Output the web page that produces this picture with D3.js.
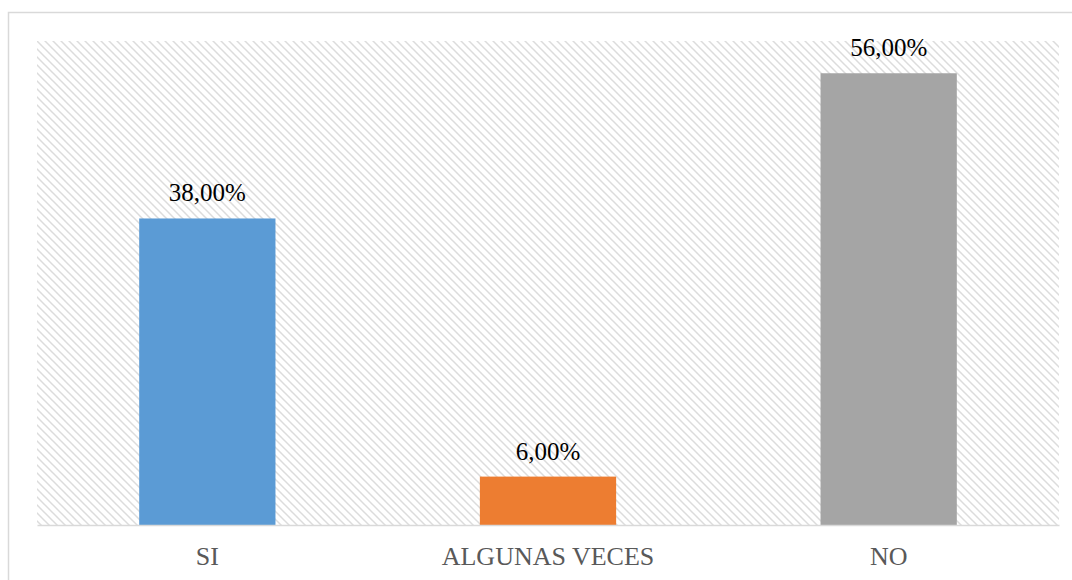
<!DOCTYPE html>
<html>
<head>
<meta charset="utf-8">
<script src="https://cdn.jsdelivr.net/npm/d3@7"></script>
<style>
  body { margin: 0; background: #fff; }
  svg { display: block; }
</style>
</head>
<body>
<svg class="chart"></svg>
<script>
var categories = ["SI", "ALGUNAS VECES", "NO"];
var values = [38, 6, 56];
var colors = ["#5b9bd5", "#ed7d31", "#a5a5a5"];

var W = 1072, H = 580;
var margin = { top: 41, right: 13, bottom: 55, left: 37 },
    width = W - margin.left - margin.right,
    height = H - margin.top - margin.bottom;

var svg = d3.select(".chart").attr("width", W).attr("height", H);

// hatched plot background
var defs = svg.append("defs");
var pat = defs.append("pattern")
    .attr("id", "hatch")
    .attr("patternUnits", "userSpaceOnUse")
    .attr("width", 8).attr("height", 8);
pat.append("path")
    .attr("d", "M-2,-2 L10,10 M-2,6 L2,10 M6,-2 L10,2")
    .attr("stroke", "#dcdcdc")
    .attr("stroke-width", 1.5);

// outer chart border
svg.append("rect")
    .attr("x", 8.5).attr("y", 12.5)
    .attr("width", W).attr("height", H)
    .attr("fill", "none")
    .attr("stroke", "#d9d9d9")
    .attr("stroke-width", 1.5);

var chart = svg.append("g")
    .attr("transform", "translate(" + margin.left + "," + margin.top + ")");

var x = d3.scaleBand().domain(categories).range([0, width])
    .paddingInner(0.6).paddingOuter(0.3);
var y = d3.scaleLinear().domain([0, 60]).range([height, 0]);

chart.append("rect")
    .attr("width", width).attr("height", height)
    .attr("fill", "url(#hatch)");

chart.selectAll(".bar")
    .data(values)
    .enter().append("rect")
    .attr("class", "bar")
    .attr("x", function (d, i) { return x(categories[i]); })
    .attr("y", function (d) { return y(d); })
    .attr("width", x.bandwidth())
    .attr("height", function (d) { return height - y(d); })
    .attr("fill", function (d, i) { return colors[i]; });

// value labels
chart.selectAll(".val")
    .data(values)
    .enter().append("text")
    .attr("class", "val")
    .attr("x", function (d, i) { return x(categories[i]) + x.bandwidth() / 2; })
    .attr("y", function (d) { return y(d) - 17; })
    .attr("text-anchor", "middle")
    .attr("font-family", "Liberation Serif, serif")
    .attr("font-size", 25)
    .attr("fill", "#000")
    .text(function (d) { return d.toFixed(2).replace(".", ",") + "%"; });

// x axis
var xAxis = chart.append("g")
    .attr("transform", "translate(0," + height + ")")
    .call(d3.axisBottom(x).tickSize(0).tickPadding(22))
    .attr("font-family", "Liberation Serif, serif")
    .attr("font-size", 26);
xAxis.select(".domain").attr("stroke", "#d9d9d9").attr("stroke-width", 1.5);
xAxis.selectAll("text").attr("fill", "#595959");
</script>
</body>
</html>
